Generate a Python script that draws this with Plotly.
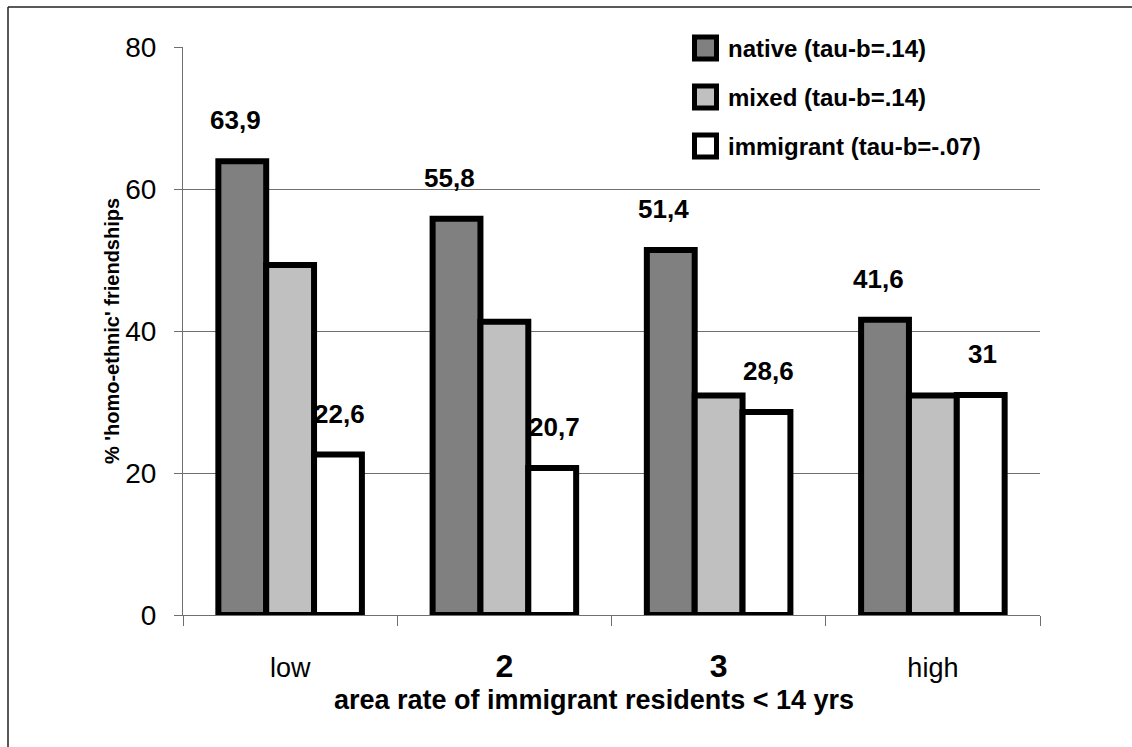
import plotly.graph_objects as go

# ---- data ----
categories = ["low", "2", "3", "high"]
tick_labels = ["low", "<span style='font-size:32px'><b>2</b></span>",
               "<span style='font-size:32px'><b>3</b></span>", "high"]
native = [63.9, 55.8, 51.4, 41.6]
mixed = [49.3, 41.3, 30.9, 30.9]
immigrant = [22.6, 20.7, 28.6, 31.0]
series_names = ["native (tau-b=.14)", "mixed (tau-b=.14)", "immigrant (tau-b=-.07)"]
y_ticks = [0, 20, 40, 60, 80]
x_title = "area rate of immigrant residents &lt; 14 yrs"
y_title = "% 'homo-ethnic' friendships"

# ---- layout constants (pixels) ----
W, H = 1132, 747
L, R, T, B = 183, 92, 47, 132
PW, PH = W - L - R, H - T - B
FONT = "Liberation Sans, Arial, sans-serif"
GRID = "#6f6f6f"
colors = ["#808080", "#c0c0c0", "#ffffff"]
BARGAP = 0.33
bar_w = (1 - BARGAP) / 3


def px_x(px):
    return (px - L) / PW


def px_y(py):
    return (H - B - py) / PH


x_idx = list(range(len(categories)))
all_series = [native, mixed, immigrant]

fig = go.Figure()
for name, vals, col in zip(series_names, all_series, colors):
    fig.add_trace(go.Bar(
        x=x_idx, y=vals, name=name, showlegend=False,
        marker=dict(color=col, line=dict(color="black", width=6)),
        cliponaxis=False,
    ))

annotations = []
# data labels for native and immigrant series
for k, vals, xs in [(0, native, -7), (2, immigrant, 2)]:
    for i, v in enumerate(vals):
        annotations.append(dict(
            x=i + (k - 1) * bar_w, y=v, xref="x", yref="y",
            text=f"{v:g}".replace(".", ","), showarrow=False,
            yanchor="middle", xanchor="center", yshift=41, xshift=xs,
            font=dict(family=FONT, size=26, color="black", weight="bold"),
        ))

# x-axis title
annotations.append(dict(
    x=px_x(594), y=px_y(700), xref="paper", yref="paper",
    text=f"<b>{x_title}</b>", showarrow=False, xanchor="center", yanchor="middle",
    font=dict(family=FONT, size=27, color="black"),
))

shapes = []
# white legend background covering the top gridline
shapes.append(dict(type="rect", xref="paper", yref="paper",
                   x0=px_x(642), x1=px_x(1040), y0=px_y(170), y1=px_y(25),
                   fillcolor="white", line=dict(width=0), layer="above"))
legend_y = [48, 97, 146]
for name, col, ly in zip(series_names, colors, legend_y):
    shapes.append(dict(type="rect", xref="paper", yref="paper",
                       x0=px_x(694.5), x1=px_x(716.5),
                       y0=px_y(ly + 11), y1=px_y(ly - 11),
                       fillcolor=col, line=dict(color="black", width=5),
                       layer="above"))
    annotations.append(dict(
        x=px_x(726), y=px_y(ly), xref="paper", yref="paper",
        text=f"<b>{name}</b>", showarrow=False, xanchor="left", yanchor="middle",
        font=dict(family=FONT, size=24, color="black"),
    ))

# outer frame (top and left)
shapes.append(dict(type="line", xref="paper", yref="paper",
                   x0=px_x(8), x1=px_x(W), y0=px_y(7), y1=px_y(7),
                   line=dict(color="#222", width=1.5)))
shapes.append(dict(type="line", xref="paper", yref="paper",
                   x0=px_x(8), x1=px_x(8), y0=px_y(7), y1=px_y(H),
                   line=dict(color="#222", width=1.5)))

fig.update_layout(
    width=W, height=H,
    margin=dict(l=L, r=R, t=T, b=B, autoexpand=False),
    paper_bgcolor="white", plot_bgcolor="white",
    barmode="group", bargap=BARGAP, bargroupgap=0,
    separators=",.",
    font=dict(family=FONT, color="black"),
    annotations=annotations, shapes=shapes,
    showlegend=False,
    xaxis=dict(
        range=[-0.5, 3.5], tickmode="array", tickvals=x_idx, ticktext=tick_labels,
        ticks="", ticklabelstandoff=29,
        tickfont=dict(family=FONT, size=27, color="black"),
        showline=True, linecolor=GRID, linewidth=1, showgrid=False, zeroline=False,
        minor=dict(ticks="outside", tick0=0.5, dtick=1, ticklen=10,
                   tickcolor=GRID, tickwidth=1, showgrid=False),
    ),
    yaxis=dict(
        range=[0, 80], tickmode="array", tickvals=y_ticks,
        ticks="outside", ticklen=8, tickcolor=GRID, tickwidth=1,
        ticklabelstandoff=12,
        tickfont=dict(family=FONT, size=28, color="black"),
        showgrid=True, gridcolor=GRID, gridwidth=1,
        showline=True, linecolor=GRID, linewidth=1, zeroline=False,
        title=dict(text=f"<b>{y_title}</b>",
                   font=dict(family=FONT, size=20, color="black"), standoff=0),
    ),
)

fig.write_html("out.html", config={"displayModeBar": False},
               post_script="document.body.style.margin='0';")
